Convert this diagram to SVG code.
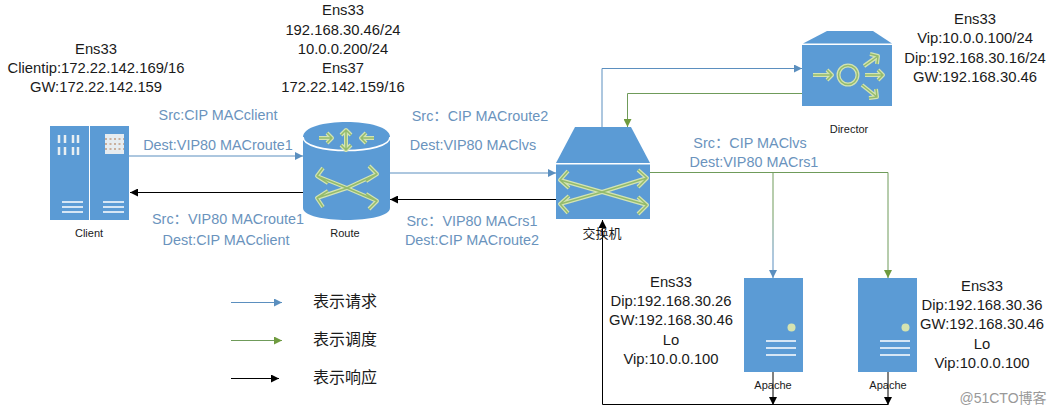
<svg xmlns="http://www.w3.org/2000/svg" width="1059" height="414" viewBox="0 0 1059 414">
<style>
text{font-family:"Liberation Sans","Noto Sans CJK SC",sans-serif;font-size:14.800px;text-anchor:middle;fill:#1a1a1a}
.b{fill:#6a93bd;font-size:14.400px}
.s{font-size:11px}
.c{font-family:"Noto Sans CJK SC","Liberation Sans",sans-serif;font-size:16px}
.n{fill:#5b9bd5}
.i{fill:none;stroke:#d3e4b3;stroke-width:4;stroke-linejoin:round}
.j{fill:none;stroke:#94bb6c;stroke-width:1.500;stroke-linejoin:round}
.w{fill:none;stroke:#fff;stroke-width:1.600}
.blue{fill:none;stroke:#5b8fbf;stroke-width:1}
.green{fill:none;stroke:#6f9b5a;stroke-width:1}
.black{fill:none;stroke:#000;stroke-width:1}
</style>
<defs>
<marker id="mb" markerUnits="userSpaceOnUse" markerWidth="9" markerHeight="8" refX="8" refY="4" orient="auto"><path d="M0 0L8 4L0 8z" fill="#5b8fbf"/></marker>
<marker id="mg" markerUnits="userSpaceOnUse" markerWidth="9" markerHeight="8" refX="8" refY="4" orient="auto"><path d="M0 0L8 4L0 8z" fill="#6f9b3f"/></marker>
<marker id="mk" markerUnits="userSpaceOnUse" markerWidth="9" markerHeight="8" refX="8" refY="4" orient="auto"><path d="M0 0L8 4L0 8z" fill="#000"/></marker>
<linearGradient id="gb" gradientUnits="userSpaceOnUse" x1="773" y1="172" x2="773" y2="278"><stop offset="0.4" stop-color="#6f9b5a"/><stop offset="0.8" stop-color="#5b8fbf"/></linearGradient>
<path id="xr" d="M317 176L347 188L377 174M317 198L347 188L377 201M323 168L317 176L328 183M323 207L317 198L328 191M369 166L377 174L366 181M369 209L377 201L366 194"/>
<path id="xs" d="M560 180L602 192L647 178M560 204L602 192L647 205M568 171L560 180L569 188M568 213L560 204L569 196M638 170L647 178L638 187M638 214L647 205L638 197"/>
<path id="xt" d="M319 138H332M327 133L332 138L327 143M374 138H361M366 133L361 138L366 143M346 130V150M341 135L346 130L351 135M341 145L346 150L351 145"/>
<path id="xd" d="M813 75H832M827 70L832 75L827 80M864 66L878 56M870 54L878 56L877 64M865 75H883M878 70L883 75L878 80M862 85L877 97M869 98L877 97L876 89"/>
</defs>
<rect width="1059" height="414" fill="#fff"/>
<g id="connectors">
<path class="blue" marker-end="url(#mb)" d="M129 156H303"/>
<path class="black" marker-end="url(#mk)" d="M303 192.500H130"/>
<path class="blue" marker-end="url(#mb)" d="M390 173H556"/>
<path class="black" marker-end="url(#mk)" d="M556 199.500H390"/>
<path class="blue" marker-end="url(#mb)" d="M602 127V68.500H802"/>
<path class="green" marker-end="url(#mg)" d="M802 93.500H627.500V127"/>
<path class="green" marker-end="url(#mg)" d="M650 172.500H888V278"/>
<path fill="none" stroke="url(#gb)" marker-end="url(#mb)" d="M773 172.500V278"/>
<path class="black" marker-end="url(#mk)" d="M773 372V405"/>
<path class="black" marker-end="url(#mk)" d="M888 372V405"/>
<path class="black" marker-end="url(#mk)" d="M888 404.500H602.500V220"/>
<path class="blue" marker-end="url(#mb)" d="M231 302.500H282"/>
<path class="green" marker-end="url(#mg)" d="M231 340.500H282"/>
<path class="black" marker-end="url(#mk)" d="M231 378.500H279"/>
</g>
<g id="client">
<rect class="n" x="50" y="126" width="79" height="94"/>
<path d="M89.500 126V220" stroke="#fff" fill="none"/>
<path d="M59 135V143M65 135V143M73 135V143M78 135V143M59 147V155M65 147V155M73 147V155M78 147V155" stroke="#e8eff2" stroke-width="2.500" fill="none"/>
<rect x="105" y="134" width="19" height="20" fill="#e6ecf0"/>
<path d="M105 139H124M105 144H124M105 149H124" stroke="#c09a80" stroke-width="1.500" stroke-dasharray="2 2.500" fill="none"/>
<path class="w" d="M62 202H83M62 207H83M62 212H83M103 202H124M103 207H124M103 212H124"/>
<text class="s" x="89" y="237">Client</text>
</g>
<g id="route">
<path class="n" d="M303 137C303 117 390 117 390 137V208C390 224 303 224 303 208z"/>
<path class="w" d="M303 137C303 155 390 155 390 137"/>
<use href="#xt" class="i"/><use href="#xt" class="j"/>
<use href="#xr" class="i"/><use href="#xr" class="j"/>
<text class="s" x="345" y="237">Route</text>
</g>
<g id="switch">
<path class="n" d="M575 127H631L650 163H556z"/>
<rect class="n" x="556" y="164.500" width="94" height="54.500"/>
<use href="#xs" class="i"/><use href="#xs" class="j"/>
<text x="602" y="238" style="font-family:'Noto Sans CJK SC',sans-serif;font-size:13px">交换机</text>
</g>
<g id="director">
<path class="n" d="M827 31H873L892 43.500H803z"/>
<rect class="n" x="802" y="45" width="90" height="61"/>
<circle cx="848" cy="75" r="9.500" class="i"/>
<circle cx="848" cy="75" r="9.500" class="j"/>
<use href="#xd" class="i"/><use href="#xd" class="j"/>
<text class="s" x="849" y="133">Director</text>
</g>
<g id="apache1">
<rect class="n" x="744" y="278" width="59" height="94"/>
<circle cx="791.500" cy="327.500" r="4" fill="#d5e3b0"/>
<path class="w" d="M766 341H796M766 348H796M766 355H796"/>
<text class="s" x="773" y="389">Apache</text>
</g>
<g id="apache2">
<rect class="n" x="858" y="278" width="59" height="94"/>
<circle cx="905.500" cy="327.500" r="4" fill="#d5e3b0"/>
<path class="w" d="M880 341H910M880 348H910M880 355H910"/>
<text class="s" x="888" y="389">Apache</text>
</g>
<g id="labels">
<text x="96" y="54">Ens33</text>
<text x="96" y="73">Clientip:172.22.142.169/16</text>
<text x="96" y="92">GW:172.22.142.159</text>
<text x="343" y="15">Ens33</text>
<text x="343" y="35">192.168.30.46/24</text>
<text x="343" y="54">10.0.0.200/24</text>
<text x="343" y="73">Ens37</text>
<text x="343" y="92">172.22.142.159/16</text>
<text x="975" y="24">Ens33</text>
<text x="975" y="43">Vip:10.0.0.100/24</text>
<text x="975" y="63">Dip:192.168.30.16/24</text>
<text x="975" y="82">GW:192.168.30.46</text>
<text class="b" x="218" y="120">Src:CIP MACclient</text>
<text class="b" x="218" y="150">Dest:VIP80 MACroute1</text>
<text class="b" x="228" y="224">Src：VIP80 MACroute1</text>
<text class="b" x="226" y="245">Dest:CIP MACclient</text>
<text class="b" x="480" y="121">Src：CIP MACroute2</text>
<text class="b" x="473" y="150">Dest:VIP80 MAClvs</text>
<text class="b" x="472" y="226">Src：VIP80 MACrs1</text>
<text class="b" x="472" y="245">Dest:CIP MACroute2</text>
<text class="b" x="750" y="148">Src：CIP MAClvs</text>
<text class="b" x="754" y="167">Dest:VIP80 MACrs1</text>
<text x="671" y="287">Ens33</text>
<text x="671" y="306">Dip:192.168.30.26</text>
<text x="671" y="325">GW:192.168.30.46</text>
<text x="671" y="345">Lo</text>
<text x="671" y="364">Vip:10.0.0.100</text>
<text x="982" y="291">Ens33</text>
<text x="982" y="310">Dip:192.168.30.36</text>
<text x="982" y="329">GW:192.168.30.46</text>
<text x="982" y="349">Lo</text>
<text x="982" y="368">Vip:10.0.0.100</text>
<text class="c" x="345" y="307">表示请求</text>
<text class="c" x="345" y="345">表示调度</text>
<text class="c" x="345" y="383">表示响应</text>
<text x="1003" y="403" style="font-size:14px;fill:#999">@51CTO博客</text>
</g>
</svg>
